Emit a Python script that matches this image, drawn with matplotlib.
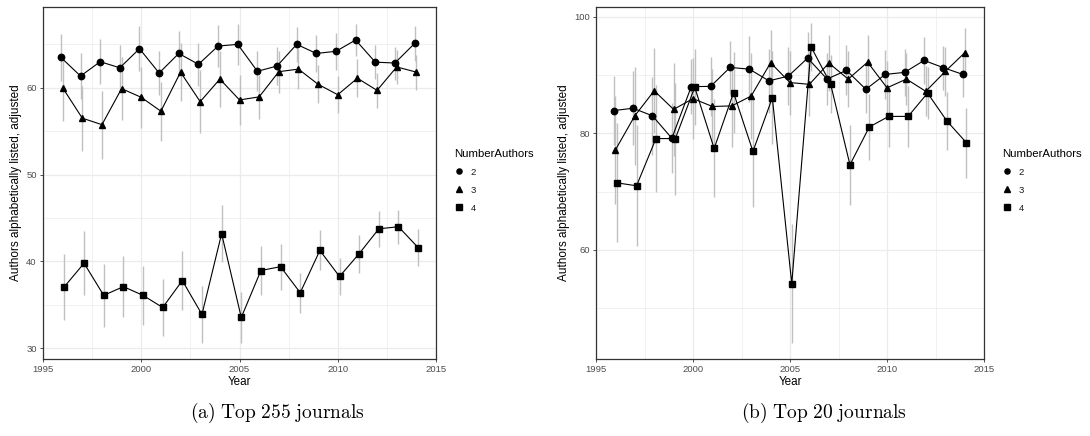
import matplotlib
matplotlib.use('Agg')
import matplotlib.pyplot as plt
from matplotlib.lines import Line2D
from matplotlib.ticker import MultipleLocator

plt.rcParams['font.family'] = ['Liberation Sans', 'DejaVu Sans']
plt.rcParams['mathtext.fontset'] = 'cm'

years = list(range(1996, 2015))
author_groups = ['2', '3', '4']

# Top 255 journals: share of papers with alphabetical author order (adjusted)
top255_two = [63.5, 61.35, 63.0, 62.3, 64.5, 61.7, 63.95, 62.7, 64.8, 65.0,
              61.9, 62.5, 65.0, 63.95, 64.2, 65.5, 62.95, 62.85, 65.1]
top255_two_err = [2.7, 2.7, 2.6, 2.6, 2.6, 2.5, 2.6, 2.5, 2.4, 2.4,
                  2.3, 2.2, 2.0, 2.1, 2.1, 1.8, 1.95, 1.9, 2.0]
top255_three = [60.0, 56.5, 55.75, 59.9, 58.9, 57.3, 61.8, 58.4, 61.0, 58.6,
                58.95, 61.85, 62.15, 60.4, 59.2, 61.1, 59.7, 62.4, 61.8]
top255_three_err = [3.8, 3.75, 3.9, 3.6, 3.5, 3.4, 3.3, 3.6, 3.2, 2.9,
                    2.5, 2.4, 2.3, 2.2, 2.15, 2.2, 2.0, 2.0, 2.0]
top255_four = [37.1, 39.8, 36.1, 37.1, 36.1, 34.7, 37.8, 33.9, 43.2, 33.55,
               38.96, 39.4, 36.4, 41.27, 38.27, 40.9, 43.76, 44.0, 41.6]
top255_four_err = [3.8, 3.7, 3.6, 3.5, 3.4, 3.3, 3.35, 3.3, 3.25, 2.9,
                   2.8, 2.65, 2.3, 2.3, 2.15, 2.2, 2.05, 1.95, 2.1]

# Top 20 journals
top20_two = [83.9, 84.3, 83.0, 79.15, 88.0, 88.05, 91.3, 91.0, 89.0, 89.8,
             92.9, 89.3, 90.8, 87.55, 90.1, 90.45, 92.5, 91.25, 90.1]
top20_two_err = [5.9, 6.3, 6.7, 6.0, 4.7, 5.0, 4.5, 5.7, 5.5, 5.0,
                 4.5, 4.5, 4.3, 4.0, 4.2, 4.0, 4.0, 3.8, 3.8]
top20_three = [77.15, 83.0, 87.3, 84.1, 85.95, 84.6, 84.7, 86.4, 92.1, 88.7,
               88.4, 92.05, 89.3, 92.2, 87.8, 89.3, 87.2, 90.6, 93.8]
top20_three_err = [9.3, 8.4, 7.3, 8.0, 7.0, 6.5, 7.0, 7.3, 5.6, 5.5,
                   5.5, 4.8, 4.8, 4.6, 4.6, 4.5, 4.3, 4.2, 4.2]
top20_four = [71.5, 71.0, 79.1, 79.1, 87.9, 77.4, 86.97, 76.9, 86.1, 54.2,
              94.8, 88.5, 74.6, 81.1, 82.9, 82.9, 86.9, 82.1, 78.4]
top20_four_err = [10.2, 10.4, 9.2, 9.6, 6.5, 8.4, 7.0, 9.5, 8.0, 10.2,
                  4.2, 5.0, 6.9, 5.7, 5.2, 5.2, 4.5, 4.9, 6.0]

markers = {'2': 'o', '3': '^', '4': 's'}
marker_sizes = {'2': 4.6, '3': 5.0, '4': 4.8}
dodge = {'2': -0.09, '3': 0.0, '4': 0.09}

GRID = '#EBEBEB'
FRAME = '#333333'
TICK_TEXT = '#4D4D4D'
ERR = '#C0C0C0'


def draw_panel(ax, series, ylim, ymajor):
    for group, (vals, errs) in zip(author_groups, series):
        xs = [y + dodge[group] for y in years]
        ax.vlines(xs, [v - e for v, e in zip(vals, errs)],
                  [v + e for v, e in zip(vals, errs)],
                  color=ERR, lw=1.0, zorder=2)
    for group, (vals, errs) in zip(author_groups, series):
        xs = [y + dodge[group] for y in years]
        ax.plot(xs, vals, color='black', lw=0.8, zorder=3)
        ax.plot(xs, vals, ls='none', marker=markers[group],
                ms=marker_sizes[group], color='black', zorder=4)

    ax.set_xlim(1995, 2015)
    ax.set_ylim(*ylim)
    ax.xaxis.set_major_locator(MultipleLocator(5))
    ax.xaxis.set_minor_locator(MultipleLocator(2.5))
    ax.yaxis.set_major_locator(MultipleLocator(ymajor))
    ax.yaxis.set_minor_locator(MultipleLocator(ymajor / 2))
    ax.grid(which='major', color=GRID, lw=0.9, zorder=0)
    ax.grid(which='minor', color=GRID, lw=0.5, zorder=0)
    ax.set_axisbelow(True)
    ax.tick_params(which='major', length=2.5, width=0.6, color=FRAME,
                   labelsize=6.8, labelcolor=TICK_TEXT, pad=2)
    ax.tick_params(which='minor', length=0)
    for spine in ax.spines.values():
        spine.set_color(FRAME)
        spine.set_linewidth(0.9)
    ax.set_xlabel('Year', fontsize=8.4, labelpad=1)
    ax.set_ylabel('Authors alphabetically listed, adjusted', fontsize=8.5, labelpad=3)


fig = plt.figure(figsize=(10.9, 4.36), dpi=100)
ax_a = fig.add_axes([43 / 1090, 1 - 359 / 436, 393 / 1090, 352 / 436])
ax_b = fig.add_axes([596 / 1090, 1 - 359 / 436, 388 / 1090, 352 / 436])

draw_panel(ax_a,
           [(top255_two, top255_two_err), (top255_three, top255_three_err),
            (top255_four, top255_four_err)],
           (28.77, 69.3), 10)
draw_panel(ax_b,
           [(top20_two, top20_two_err), (top20_three, top20_three_err),
            (top20_four, top20_four_err)],
           (41.3, 101.66), 20)

# Legends to the right of each panel
handles = [Line2D([], [], ls='none', marker=markers[g], ms=marker_sizes[g] * 0.8,
                  color='black') for g in author_groups]
for x_left in (449 / 1090, 997 / 1090):
    leg = fig.legend(handles, author_groups, title='NumberAuthors',
                     loc='upper left', bbox_to_anchor=(x_left, 1 - 144 / 436),
                     frameon=False, fontsize=6.8, title_fontsize=8.2,
                     handlelength=1.2, handletextpad=0.6, labelspacing=0.95,
                     borderpad=0, alignment='left')
    for txt in leg.get_texts():
        txt.set_color('#1A1A1A')

fig.text(277 / 1090, 1 - 413 / 436, r'$\mathrm{(a)\ Top\ 255\ journals}$',
         ha='center', va='center', fontsize=14)
fig.text(824 / 1090, 1 - 413 / 436, r'$\mathrm{(b)\ Top\ 20\ journals}$',
         ha='center', va='center', fontsize=14)

fig.savefig('out.png', dpi=100, facecolor='white')
